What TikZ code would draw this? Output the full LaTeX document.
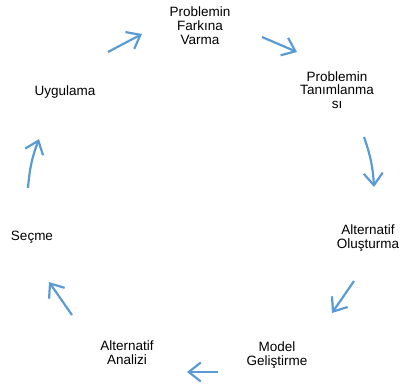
\documentclass[tikz,border=0pt]{standalone}
\usepackage{fontspec}
\setmainfont{Liberation Sans}
\usepackage{xcolor}
\usetikzlibrary{arrows.meta,positioning}
\definecolor{cycleblue}{HTML}{5B9BD5}

\begin{document}
\begin{tikzpicture}[x=1pt,y=-1pt,
  stage/.style={align=center,inner sep=0pt,font=\fontsize{13.5}{13.8}\selectfont},
  cyclearrow/.style={-{Straight Barb[length=12pt,width=19pt]},line width=2.2pt,draw=cycleblue}]
  \useasboundingbox (0,0) rectangle (401,389);
  % Stages
  \node[stage] (fark)   at (200,25.5) {Problemin\\Farkına\\Varma};
  \node[stage] (tanim)  at (337,90)   {Problemin\\Tanımlanma\\sı};
  \node[stage] (olus)   at (368,238)  {Alternatif\\Oluşturma};
  \node[stage] (model)  at (277,355)  {Model\\Geliştirme};
  \node[stage] (analiz) at (127,353)  {Alternatif\\Analizi};
  \node[stage] (secme)  at (32,237)   {Seçme};
  \node[stage] (uygula) at (65,92)    {Uygulama};
  % Arrow ends
  \coordinate (a1s) at (108,52);  \coordinate (a1e) at (142,34);
  \coordinate (a2s) at (262,37);  \coordinate (a2e) at (297,52);
  \coordinate (a3s) at (364,137); \coordinate (a3e) at (374,187);
  \coordinate (a4s) at (354,281); \coordinate (a4e) at (332,313);
  \coordinate (a5s) at (218,372); \coordinate (a5e) at (187,372);
  \coordinate (a6s) at (72,315);  \coordinate (a6e) at (49,282);
  \coordinate (a7s) at (28,188);  \coordinate (a7e) at (39,139);
  % Cycle arrows
  \draw[cyclearrow] (a1s) -- (a1e);
  \draw[cyclearrow] (a2s) -- (a2e);
  \draw[cyclearrow] (a3s) to[bend left=8] (a3e);
  \draw[cyclearrow] (a4s) -- (a4e);
  \draw[cyclearrow] (a5s) -- (a5e);
  \draw[cyclearrow] (a6s) -- (a6e);
  \draw[cyclearrow] (a7s) to[bend left=8] (a7e);
\end{tikzpicture}
\end{document}
